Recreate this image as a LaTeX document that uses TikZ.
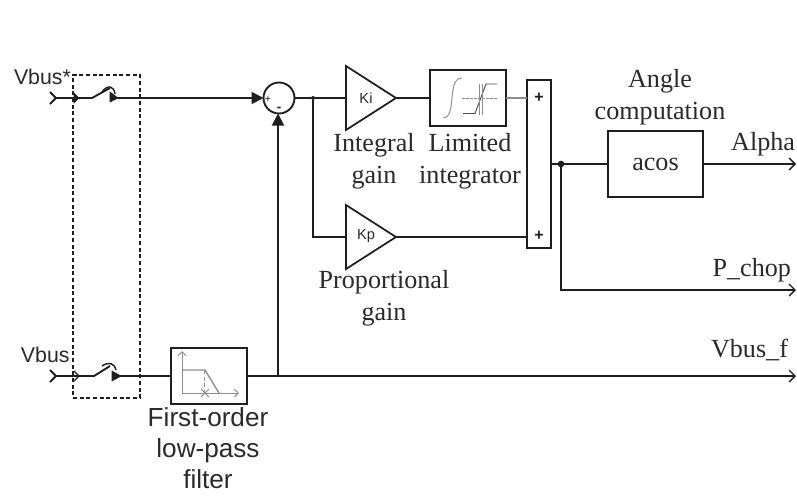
\documentclass[tikz,border=0pt]{standalone}
\usepackage{fontspec}
\setmainfont{Liberation Serif}
\newfontfamily\sansf{Liberation Sans}
\usetikzlibrary{shapes.geometric,arrows.meta}
\definecolor{ink}{HTML}{1E1E1E}
\definecolor{txt}{HTML}{2A2A2A}
\definecolor{icon}{HTML}{8C8C8C}
\tikzset{
  x=0.75pt,y=-0.75pt,outer sep=0pt,
  wire/.style={draw=ink,line width=1.4pt},
  sig/.style={wire,-{Straight Barb[length=4.5pt,width=9pt,line width=1pt]}},
  head/.style={wire,-{Triangle[length=9pt,width=9pt]}},
  blockbox/.style={draw=ink,line width=1.5pt,fill=white,inner sep=0pt,anchor=north west},
  gain/.style={draw=ink,line width=1.3pt,fill=white,isosceles triangle,isosceles triangle stretches,shape border rotate=0,minimum width=64*0.75pt,minimum height=50*0.75pt,inner sep=0pt,anchor=lower side},
  gaintext/.style={font=\sansf\fontsize{11}{12}\selectfont,text=txt,inner sep=0pt},
  serif/.style={font=\fontsize{19.6}{24}\selectfont,text=txt,align=center,inner sep=0pt},
  sanslab/.style={font=\sansf\fontsize{19.6}{23}\selectfont,text=txt,align=center,inner sep=0pt},
  sansin/.style={font=\sansf\fontsize{16}{18}\selectfont,text=txt,inner sep=0pt},
  iconl/.style={draw=icon,line width=0.7pt},
  dot/.style={circle,fill=ink,inner sep=0pt,minimum size=5pt},
  plus/.style={font=\sansf\bfseries\fontsize{12}{12}\selectfont,text=ink,inner sep=0pt},
  tip/.style={fill=ink,draw=ink,line width=0.4pt}
}
\begin{document}
\begin{tikzpicture}
\useasboundingbox (0,0) rectangle (797,497);
\fill[white] (0,0) rectangle (797,497);
% dashed link
\node (link) [draw=ink,line width=1.2pt,densely dashed,inner sep=0pt,anchor=north west,minimum width=67*0.75pt,minimum height=323*0.75pt] at (73,75) {};
% named points
\coordinate (in1) at (50,98);
\coordinate (sw1a) at (92,98);
\coordinate (sw1b) at (115,98);
\coordinate (in2) at (50,376);
\coordinate (sw2a) at (94,376);
\coordinate (sw2b) at (115,376);
\node (sum) [circle,draw=ink,line width=1.4pt,minimum size=31*0.75pt,inner sep=0pt,fill=white] at (279,98) {};
\node (ki) [gain] at (346,98) {};
\node (kp) [gain] at (346,237) {};
\node (kit) [gaintext] at (366,98) {Ki};
\node (kpt) [gaintext] at (366,236) {Kp};
\node (lim) [blockbox,minimum width=76*0.75pt,minimum height=56*0.75pt] at (430,70) {};
\node (bar) [blockbox,minimum width=24*0.75pt,minimum height=168*0.75pt] at (527,80) {};
\node (acos) [blockbox,minimum width=95*0.75pt,minimum height=66*0.75pt,font=\fontsize{19.6}{22}\selectfont,text=txt] at (608,131) {acos};
\node (lpf) [blockbox,minimum width=76*0.75pt,minimum height=56*0.75pt] at (171,348) {};
\node (j1) [dot,minimum size=3pt] at (313,98) {};
\node (j2) [dot] at (561,164) {};
\coordinate (j3) at (278,376);
\coordinate (barA) at (527,98);
\coordinate (barB) at (527,237);
\coordinate (barO) at (551,164);
\coordinate (oA) at (796,164);
\coordinate (pc) at (561,290);
\coordinate (oP) at (796,290);
\coordinate (oV) at (796,376);
\coordinate (kjoin) at (313,237);
% inputs
\draw[wire] (in1) ++(0,-6) -- ++(6,6) -- ++(-6,6);
\draw[wire] (in2) ++(0,-6) -- ++(6,6) -- ++(-6,6);
% top switch
\draw[wire] (in1) ++(6,0) -- (sw1a) -- (110,88);
\draw[wire,line width=1.1pt] (102,92) .. controls (108,84) and (114,86) .. (115,94);
\draw[head] (sw1b) -- (sum.west);
\fill[tip] (110,92) -- (118,98) -- (110,102) -- cycle;
\fill[tip] (74,93) -- (79,98) -- (74,103) -- cycle;
% bottom switch
\draw[wire] (in2) ++(6,0) -- (sw2a) -- (110,366);
\draw[wire,line width=1.1pt] (102,366) .. controls (108,362) and (114,362) .. (116,370);
\draw[wire] (sw2b) -- (lpf.west);
\fill[tip] (112,371) -- (121,376) -- (112,381) -- cycle;
\draw[ink,line width=1pt] (74,371) -- (79,376) -- (74,381);
% main wires
\draw[wire] (lpf.east) -- (j3);
\draw[sig] (j3) -- (oV);
\draw[head] (j3) -- (sum.south -| j3);
\draw[wire] (sum.east) -- (j1);
\draw[wire] (j1) -- (ki.lower side);
\draw[wire] (j1) -- (kjoin) -- (kp.lower side);
\draw[wire] (ki.apex) -- (ki.apex -| lim.west);
\draw[draw=icon,line width=1pt] (lim.east |- barA) -- (barA);
\draw[wire] (kp.apex) -- (barB);
\draw[wire] (barO) -- (j2);
\draw[wire] (j2) -- (acos.west);
\draw[sig] (acos.east) -- (oA);
\draw[sig] (j2) -- (pc) -- (oP);
% sum signs
\node (sp) [font=\sansf\fontsize{8}{8}\selectfont,text=ink,inner sep=0pt] at (268,99) {+};
\node (sm) [font=\sansf\bfseries\fontsize{10}{10}\selectfont,text=ink,inner sep=0pt] at (279,109) {-};
\node (p1) [plus] at (539,98) {+};
\node (p2) [plus] at (539,236) {+};
% integrator icon
\draw[iconl] (443,118) .. controls (450,118) and (451,108) .. (452,98) .. controls (453,88) and (454,78) .. (462,78);
\draw[iconl,dashed,dash pattern=on 2pt off 1pt] (462,98) -- (497,98);
\draw[iconl,draw=black!70] (463,113.5) -- (475,113.5) -- (486,84) -- (497,84);
\draw[iconl] (479,84) -- (479,115) (482,84) -- (482,115);
% filter icon
\draw[iconl,-{Straight Barb[length=3pt,width=6pt]}] (182,393) -- (182,351);
\draw[iconl,-{Straight Barb[length=3pt,width=6pt]}] (182,393) -- (239,393);
\draw[iconl,line width=1pt] (182,370) -- (205,370) -- (219,393);
\draw[iconl,dashed,dash pattern=on 3pt off 2pt] (204,370) -- (204,393);
\draw[iconl] (201,389) -- (209,397) (201,397) -- (209,389);
% labels
\node (t1) [sansin,anchor=west] at (14,77) {Vbus*};
\node (t2) [sansin,anchor=west] at (21,355) {Vbus};
\node (t3) [sanslab] at (208,448) {First-order\\low-pass\\filter};
\node (t4) [serif] at (374,161) {Integral\\gain};
\node (t5) [serif] at (470,161) {Limited\\integrator};
\node (t6) [serif] at (384,298) {Proportional\\gain};
\node (t7) [serif] at (660,97) {Angle\\computation};
\node (t8) [serif,anchor=east] at (795,144) {Alpha};
\node (t9) [serif,anchor=east] at (791,270) {P\_chop};
\node (t10) [serif,anchor=east] at (788,350) {Vbus\_f};
\end{tikzpicture}
\end{document}
